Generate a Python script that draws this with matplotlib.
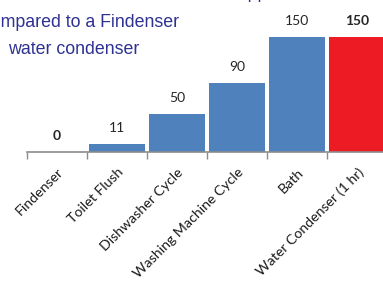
import matplotlib.pyplot as plt
import numpy as np

categories = ["Findenser", "Toilet Flush", "Dishwasher Cycle",
              "Washing Machine Cycle", "Bath", "Water Condenser (1 hr)"]
litres = [0, 11, 50, 90, 150, 150]
bar_colors = ["#4f81bd", "#4f81bd", "#4f81bd", "#4f81bd", "#4f81bd", "#ed1c24"]
bold_labels = [True, False, False, False, False, True]

fig = plt.figure(figsize=(3.83, 2.84), dpi=100)
ax = fig.add_axes([27 / 383, 132 / 284, 360 / 383, 115 / 284])

x = np.arange(len(categories))
ax.bar(x, litres, width=0.92, color=bar_colors, zorder=2, clip_on=False)
ax.set_xlim(-0.5, len(categories) - 0.5)
ax.set_ylim(0, 150)

for xi, v, b in zip(x, litres, bold_labels):
    ax.annotate(str(v), (xi, v), xytext=(0, 7), textcoords="offset points",
                ha="center", va="bottom", fontsize=10, family="Lato",
                color="#262626", fontweight="bold" if b else "normal")

for s in ["top", "right", "left"]:
    ax.spines[s].set_visible(False)
ax.spines["bottom"].set_color("#8c8c8c")
ax.spines["bottom"].set_linewidth(1.2)
ax.set_yticks([])

ax.set_xticks(x)
ax.set_xticklabels(categories, rotation=45, ha="right", rotation_mode="anchor",
                   fontsize=10.2, family="Lato", color="#1a1a1a")
ax.tick_params(axis="x", which="major", length=0, pad=10)
ax.set_xticks(np.arange(len(categories) + 1) - 0.5, minor=True)
ax.tick_params(axis="x", which="minor", length=5, color="#8c8c8c", width=1)

title_color = "#2e3192"
fig.text(0.12, 1 + 2 / 284, "Water use of household appliances", ha="left",
         va="baseline", fontsize=12.8, family="Liberation Sans", color=title_color)
fig.text(-22 / 383, 1 - 27 / 284, "Compared to a Findenser", ha="left",
         va="baseline", fontsize=12.8, family="Liberation Sans", color=title_color)
fig.text(8 / 383, 1 - 54 / 284, "water condenser", ha="left",
         va="baseline", fontsize=12.8, family="Liberation Sans", color=title_color)

fig.savefig("out.png", dpi=100)
